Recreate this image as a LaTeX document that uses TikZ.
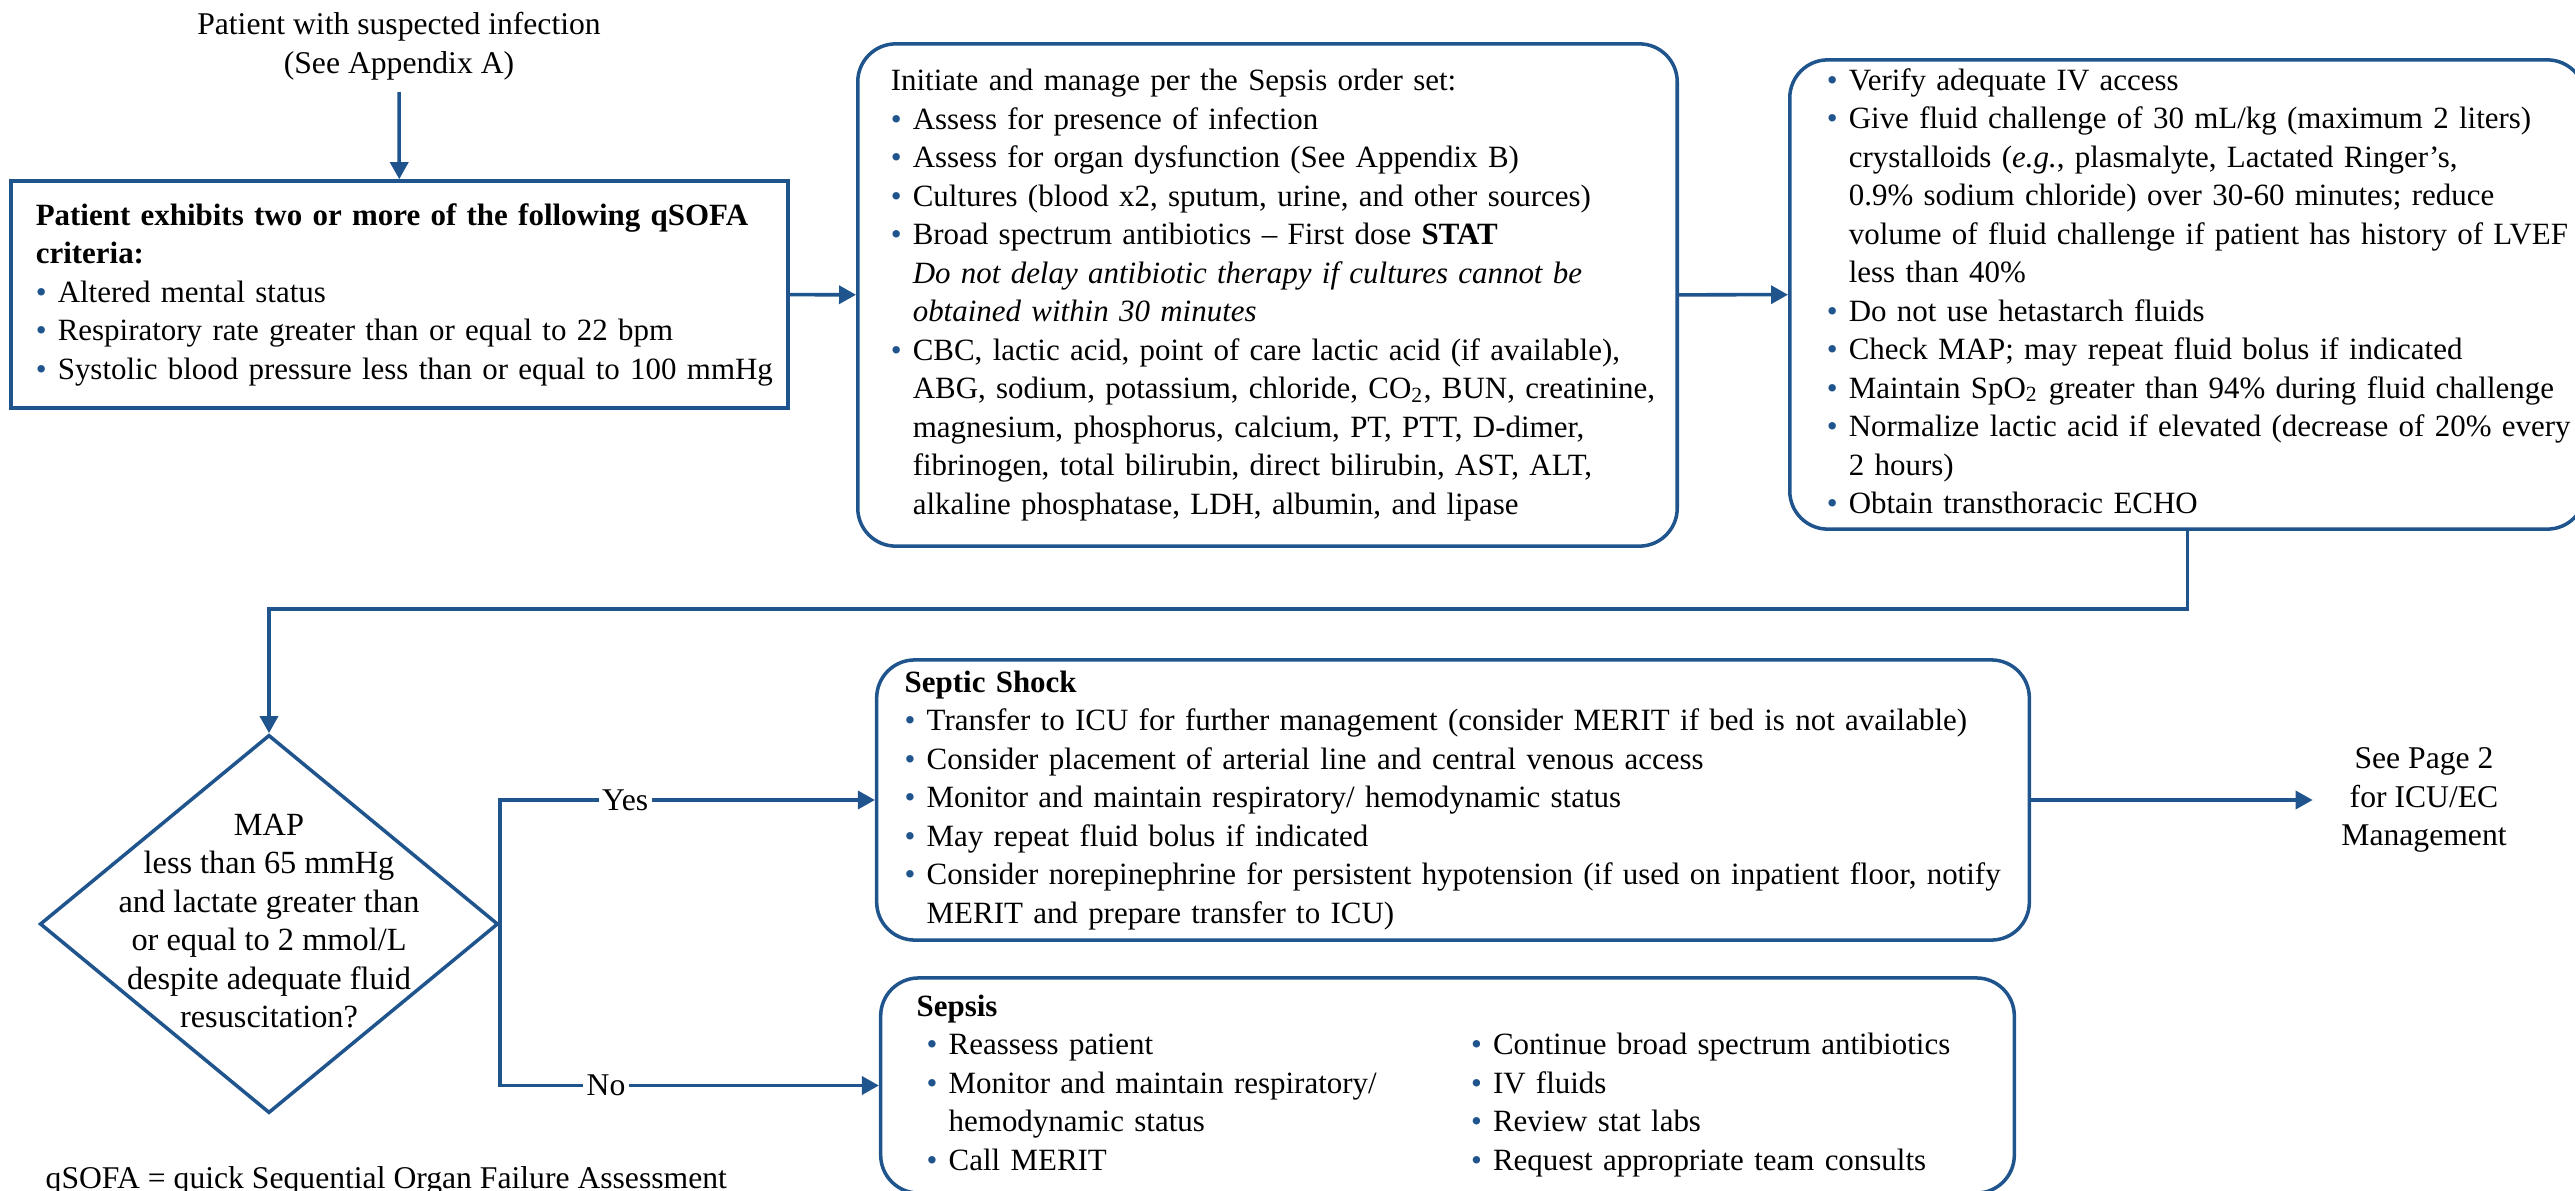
\documentclass[tikz,border=0pt]{standalone}
\usepackage{fontspec}
\setmainfont{Liberation Serif}
\usepackage{xcolor}
\usetikzlibrary{shapes.geometric}
\usetikzlibrary{arrows.meta}
\usetikzlibrary{positioning}
\definecolor{sepblue}{RGB}{31,84,141}
\newcommand{\bitem}{\makebox[0.22cm][l]{\textcolor{sepblue}{\textbullet}}}
\newcommand{\bcont}{\hspace*{0.22cm}}
\newcommand{\boxlines}[1]{\begin{tabular}{@{}l@{}}#1\end{tabular}}

\begin{document}
\begin{tikzpicture}[x=0.01cm,y=-0.01cm,
  every node/.style={font=\fontsize{9}{10.95}\selectfont},
  box/.style={draw=sepblue,line width=1pt,align=left,inner sep=0pt,
    font=\fontsize{8.8}{10.95}\selectfont},
  rbox/.style={box,rounded corners=0.38cm},
  decision/.style={diamond,draw=sepblue,line width=1pt,inner sep=0pt,
    minimum width=4.58cm,minimum height=3.78cm},
  arr/.style={draw=sepblue,line width=1pt,-{Triangle[length=1.7mm,width=1.8mm]}},
  lbl/.style={fill=white,inner sep=1pt}]
\useasboundingbox (0,0) rectangle (2575,1191);

\node[align=center] (start) at (399,46) {Patient with suspected infection\\(See Appendix A)};
\node[box,minimum width=7.77cm,minimum height=2.27cm,text width=7.27cm] (qsofa) at (399.5,294.5)
  {\boxlines{\textbf{Patient exhibits two or more of the following qSOFA}\\
   \textbf{criteria:}\\
   \bitem Altered mental status\\
   \bitem Respiratory rate greater than or equal to 22 bpm\\
   \bitem Systolic blood pressure less than or equal to 100 mmHg}};
\node[rbox,minimum width=8.19cm,minimum height=5.02cm,text width=7.53cm] (order) at (1267.5,295)
  {\boxlines{Initiate and manage per the Sepsis order set:\\
   \bitem Assess for presence of infection\\
   \bitem Assess for organ dysfunction (See Appendix B)\\
   \bitem Cultures (blood x2, sputum, urine, and other sources)\\
   \bitem Broad spectrum antibiotics -- First dose \textbf{STAT}\\
   \bcont\textit{Do not delay antibiotic therapy if cultures cannot be}\\
   \bcont\textit{obtained within 30 minutes}\\
   \bitem CBC, lactic acid, point of care lactic acid (if available),\\
   \bcont ABG, sodium, potassium, chloride, CO\textsubscript{2}, BUN, creatinine,\\
   \bcont magnesium, phosphorus, calcium, PT, PTT, D-dimer,\\
   \bcont fibrinogen, total bilirubin, direct bilirubin, AST, ALT,\\
   \bcont alkaline phosphatase, LDH, albumin, and lipase}};
\node[rbox,minimum width=7.95cm,minimum height=4.69cm,text width=7.21cm] (fluid) at (2187.5,294.5)
  {\boxlines{\bitem Verify adequate IV access\\
   \bitem Give fluid challenge of 30 mL/kg (maximum 2 liters)\\
   \bcont crystalloids (\textit{e.g.}, plasmalyte, Lactated Ringer’s,\\
   \bcont 0.9\% sodium chloride) over 30-60 minutes; reduce\\
   \bcont volume of fluid challenge if patient has history of LVEF\\
   \bcont less than 40\%\\
   \bitem Do not use hetastarch fluids\\
   \bitem Check MAP; may repeat fluid bolus if indicated\\
   \bitem Maintain SpO\textsubscript{2} greater than 94\% during fluid challenge\\
   \bitem Normalize lactic acid if elevated (decrease of 20\% every\\
   \bcont 2 hours)\\
   \bitem Obtain transthoracic ECHO}};
\node[decision] (dia) at (269,924) {};
\node[align=center,font=\fontsize{9.2}{10.95}\selectfont] (diatext) at (269,921) {MAP\\less than 65 mmHg\\and lactate greater than\\or equal to 2 mmol/L\\despite adequate fluid\\resuscitation?};
\node[rbox,minimum width=11.52cm,minimum height=2.80cm,text width=10.96cm] (shock) at (1453,800)
  {\boxlines{\textbf{Septic Shock}\\
   \bitem Transfer to ICU for further management (consider MERIT if bed is not available)\\
   \bitem Consider placement of arterial line and central venous access\\
   \bitem Monitor and maintain respiratory/ hemodynamic status\\
   \bitem May repeat fluid bolus if indicated\\
   \bitem Consider norepinephrine for persistent hypotension (if used on inpatient floor, notify\\
   \bcont MERIT and prepare transfer to ICU)}};
\node[rbox,minimum width=11.33cm,minimum height=2.15cm,text width=10.61cm] (sepsis) at (1447.5,1085.5)
  {\begin{tabular}{@{\hspace{0.1cm}}p{5.44cm}@{}l@{}}
   \multicolumn{2}{@{}l}{\textbf{Sepsis}}\\
   \bitem Reassess patient & \bitem Continue broad spectrum antibiotics\\
   \bitem Monitor and maintain respiratory/ & \bitem IV fluids\\
   \bcont hemodynamic status & \bitem Review stat labs\\
   \bitem Call MERIT & \bitem Request appropriate team consults
   \end{tabular}};
\node[align=center,inner xsep=0.28cm] (page2) at (2424,800) {See Page 2\\for ICU/EC\\Management};
\node[anchor=base west,inner sep=0pt] (note) at (45,1188) {qSOFA = quick Sequential Organ Failure Assessment};

\draw[arr] (start) -- (qsofa);
\draw[arr] (qsofa) -- (order);
\draw[arr] (order) -- (fluid);
\draw[arr] (fluid.south) -- ++(0,78) -| (dia.north);
\draw[arr] (dia.east) |- node[lbl,pos=0.667]{Yes} (shock.west);
\draw[arr] (dia.east) |- node[lbl,pos=0.64]{No} (sepsis.west);
\draw[arr] (shock) -- (page2);
\end{tikzpicture}
\end{document}
